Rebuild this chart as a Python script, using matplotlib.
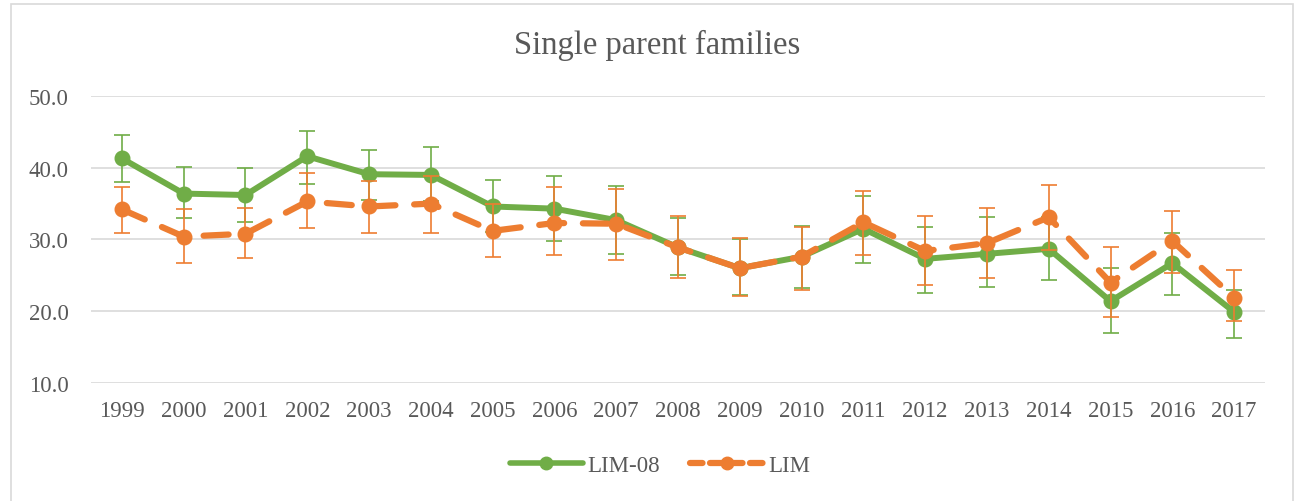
import matplotlib
matplotlib.use("Agg")
import matplotlib.pyplot as plt
from matplotlib.patches import Rectangle
from matplotlib.lines import Line2D

years = [str(y) for y in range(1999, 2018)]

lim08 = [41.3, 36.4, 36.2, 41.6, 39.1, 39.0, 34.6, 34.3, 32.7, 28.9,
         26.0, 27.6, 31.5, 27.3, 28.0, 28.7, 21.4, 26.7, 19.9]
lim08_lo = [38.0, 33.0, 32.4, 37.7, 35.5, 35.3, 31.0, 29.8, 28.0, 25.0,
            22.3, 23.2, 26.7, 22.6, 23.4, 24.3, 17.0, 22.3, 16.3]
lim08_hi = [44.6, 40.1, 40.0, 45.1, 42.5, 42.9, 38.3, 38.8, 37.5, 33.0,
            30.0, 31.9, 36.1, 31.7, 33.1, 33.2, 26.0, 30.9, 23.0]

lim = [34.2, 30.4, 30.8, 35.3, 34.6, 35.0, 31.2, 32.3, 32.2, 28.9,
       26.0, 27.6, 32.4, 28.4, 29.5, 33.1, 24.0, 29.8, 21.9]
lim_lo = [30.9, 26.7, 27.4, 31.6, 30.9, 30.9, 27.6, 27.8, 27.1, 24.7,
          22.1, 23.0, 27.8, 23.7, 24.7, 28.6, 19.2, 25.4, 18.6]
lim_hi = [37.3, 34.3, 34.4, 39.3, 38.2, 38.8, 35.0, 37.3, 37.0, 33.3,
          30.2, 31.7, 36.8, 33.3, 34.4, 37.6, 28.9, 34.0, 25.7]

GREEN = "#70AD47"
ORANGE = "#ED7D31"
GREY = "#595959"

plt.rcParams["font.family"] = ["Liberation Serif", "DejaVu Serif"]

fig = plt.figure(figsize=(12.94, 5.02), dpi=100)
fig.patches.append(Rectangle((11 / 1294, -0.1), 1282 / 1294, 1.09,
                             transform=fig.transFigure, fill=False,
                             edgecolor="#D9D9D9", linewidth=1.2))

ax = fig.add_axes([91 / 1294, 1 - 384 / 502, (1265 - 91) / 1294, (384 - 97) / 502])
xs = list(range(len(years)))

def errs(vals, lo, hi):
    return [[v - l for v, l in zip(vals, lo)], [h - v for v, h in zip(vals, hi)]]

ax.errorbar(xs, lim08, yerr=errs(lim08, lim08_lo, lim08_hi), fmt="none",
            ecolor=GREEN, elinewidth=1.2, capsize=6, capthick=1.2, zorder=2)
ax.plot(xs, lim08, color=GREEN, linewidth=4.3, marker="o", markersize=10.5,
        solid_capstyle="round", zorder=3)

ax.errorbar(xs, lim, yerr=errs(lim, lim_lo, lim_hi), fmt="none",
            ecolor=ORANGE, elinewidth=1.2, capsize=6, capthick=1.2, zorder=4)
ax.plot(xs, lim, color=ORANGE, linewidth=4.5, marker="o", markersize=10.5,
        dashes=(4, 3), dash_capstyle="round", zorder=5)

ax.set_xlim(-0.5, len(years) - 0.5)
ax.set_ylim(10, 50)
ax.set_yticks([10, 20, 30, 40, 50])
ax.set_yticklabels([f"{v:.1f}" for v in [10, 20, 30, 40, 50]])
ax.set_xticks(xs)
ax.set_xticklabels(years)
ax.tick_params(length=0, labelsize=16.5, colors=GREY, pad=12)
ax.tick_params(axis="y", pad=16)
ax.grid(axis="y", color="#D9D9D9", linewidth=1.2)
ax.set_axisbelow(True)
for s in ax.spines.values():
    s.set_visible(False)

fig.text(0.5 + 10 / 1294, 1 - 45 / 502, "Single parent families", ha="center", va="center",
         fontsize=23.5, color=GREY)

handles = [
    Line2D([], [], color=GREEN, linewidth=4, marker="o", markersize=9,
           solid_capstyle="round"),
    Line2D([], [], color=ORANGE, linewidth=4.5, marker="o", markersize=9,
           dashes=(2, 1.2), dash_capstyle="round"),
]
fig.legend(handles, ["LIM-08", "LIM"], loc="center", bbox_to_anchor=(0.51, 1 - 466 / 502),
           ncol=2, frameon=False, fontsize=16.5, labelcolor=GREY, handlelength=3.2,
           columnspacing=1.3, handletextpad=0.2)

fig.savefig("out.png", dpi=100)
